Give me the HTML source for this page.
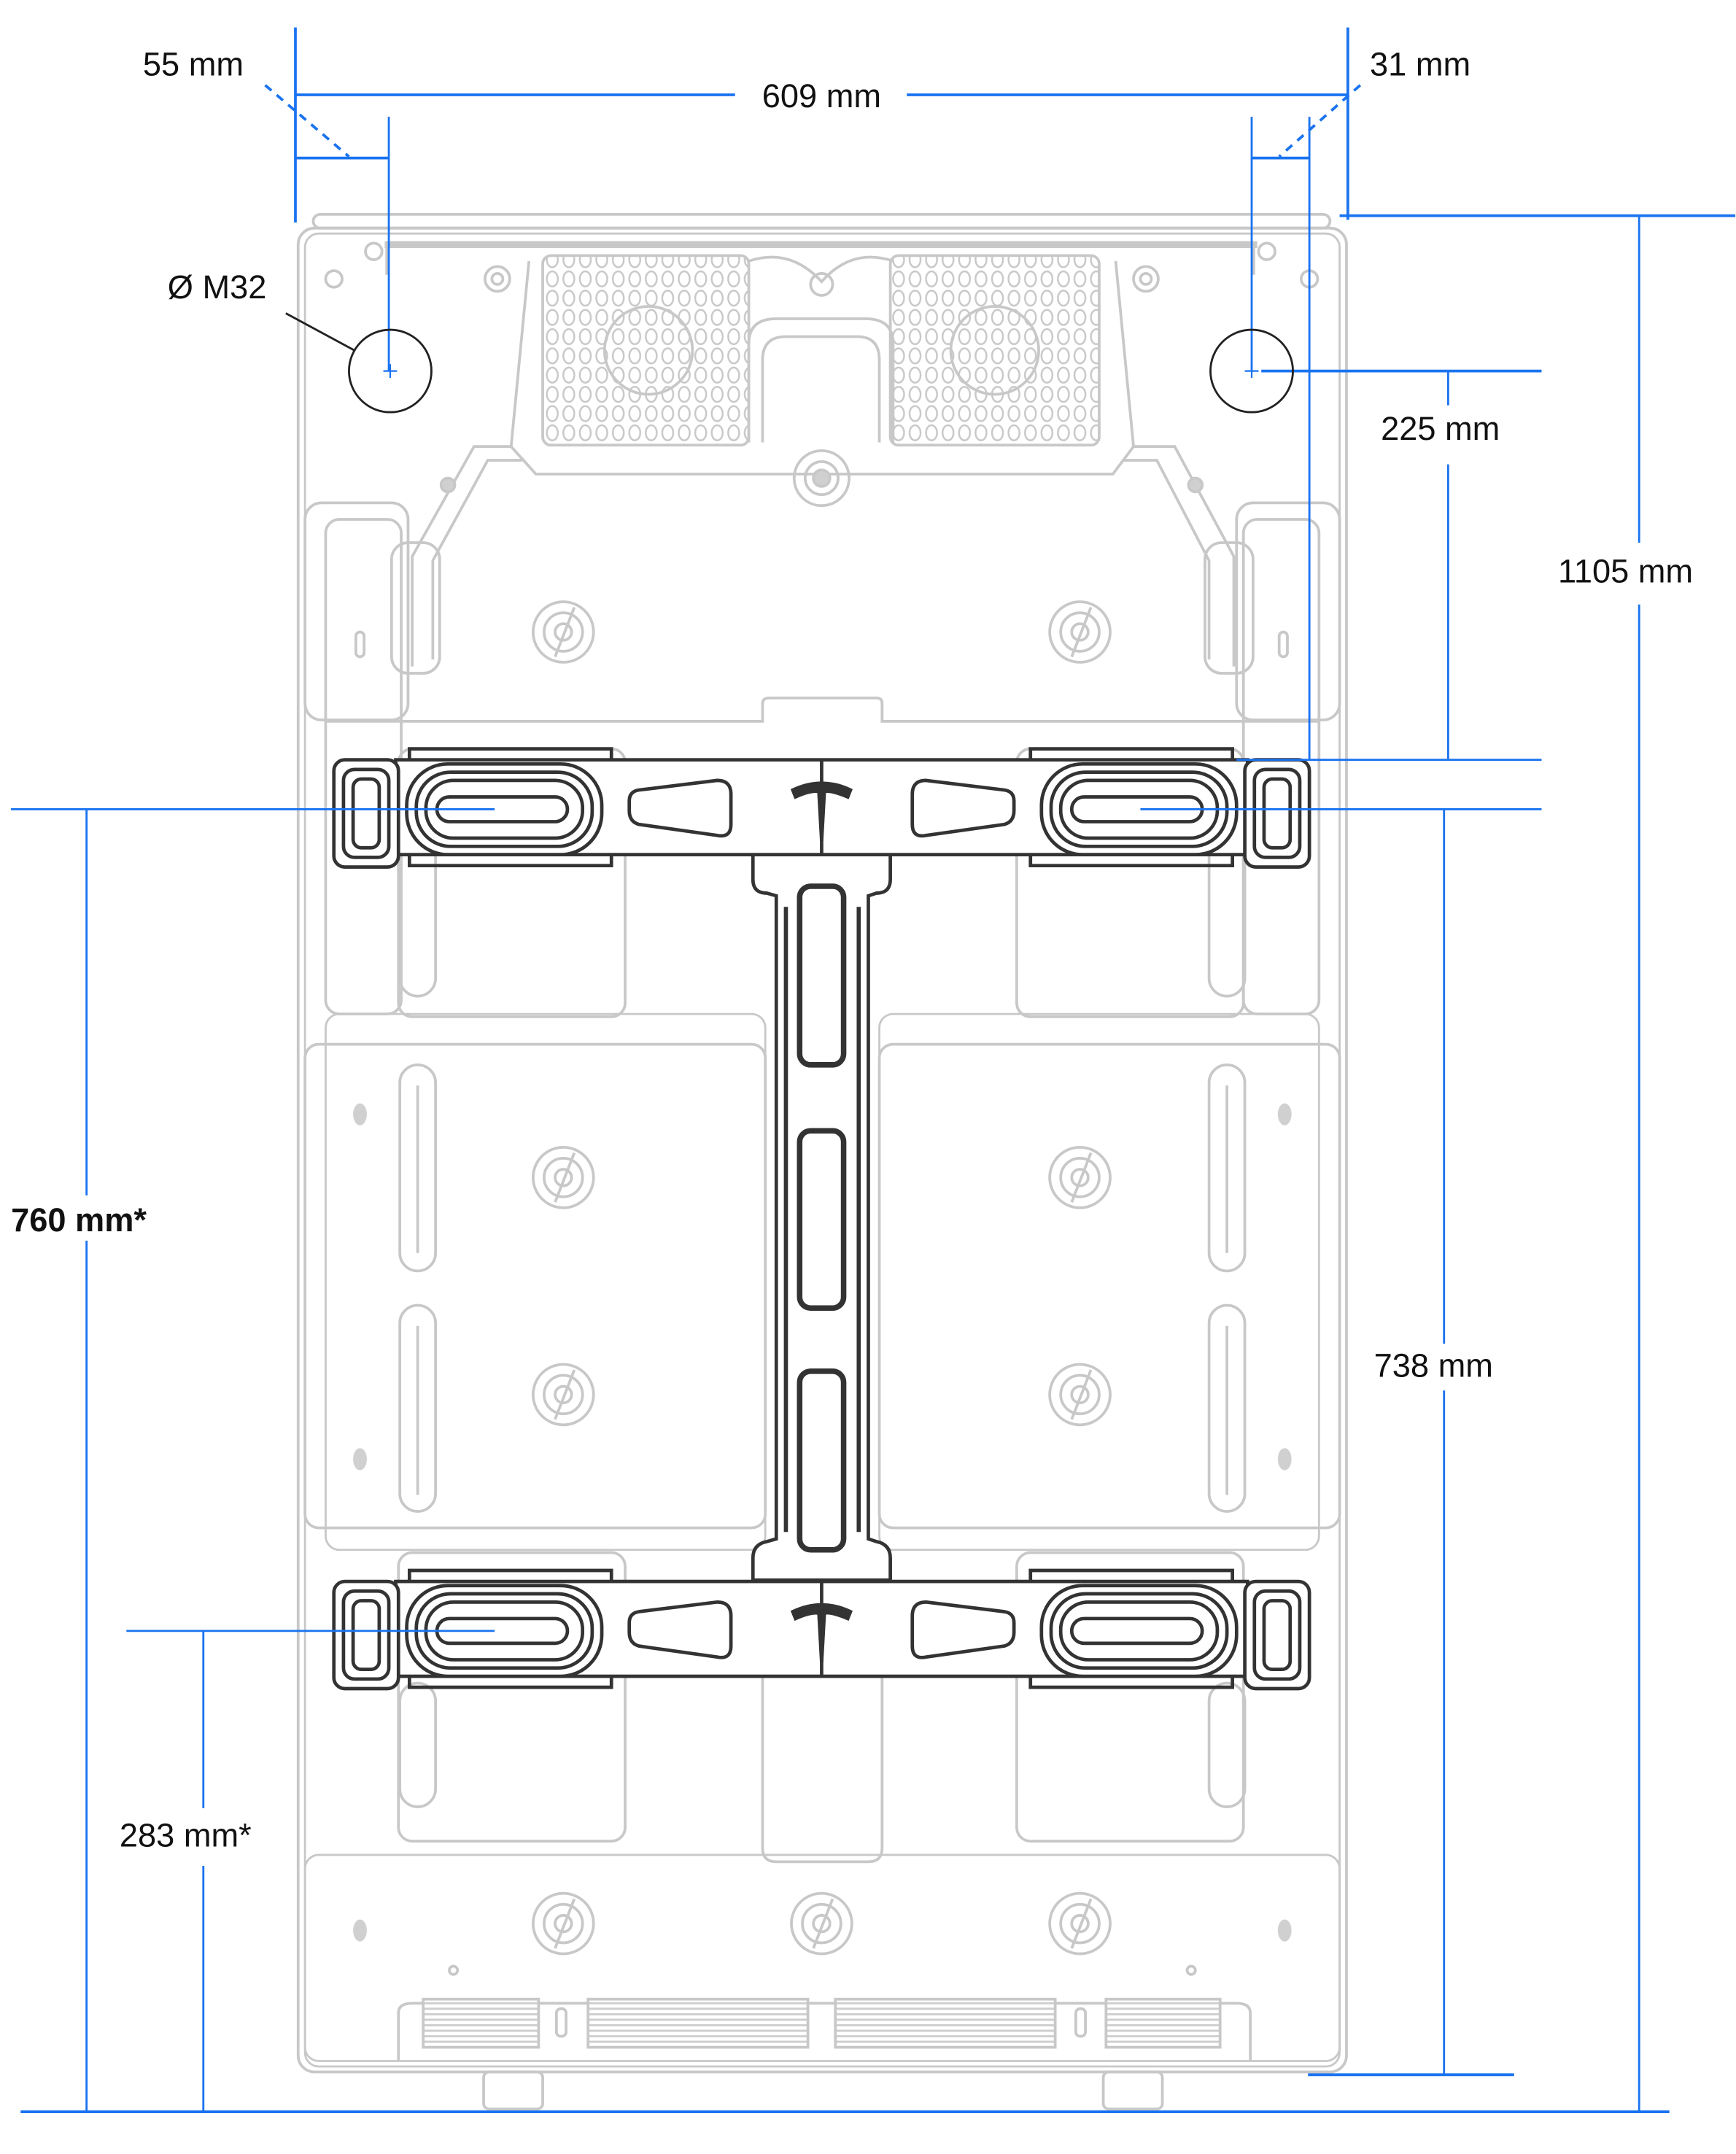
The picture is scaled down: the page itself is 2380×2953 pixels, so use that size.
<!DOCTYPE html>
<html><head><meta charset="utf-8"><style>
html,body{margin:0;padding:0;background:#fff}
svg{display:block}
text{font-family:"Liberation Sans",sans-serif;font-size:24px;fill:#111}
</style></head><body>
<svg width="2380" height="2953" viewBox="0 0 1263.5 1567.7" xmlns="http://www.w3.org/2000/svg">
<defs>
<pattern id="hex" width="12" height="14" patternUnits="userSpaceOnUse">
<rect width="12" height="14" fill="#fff"/>
<ellipse cx="6" cy="7" rx="4" ry="5.5" fill="none" stroke="#c8c8c8" stroke-width="1.3"/>
</pattern>
<pattern id="grill" width="6" height="4" patternUnits="userSpaceOnUse">
<rect width="6" height="4" fill="#fff"/><line x1="0" y1="2" x2="6" y2="2" stroke="#cfcfcf" stroke-width="1.6"/>
</pattern>
<g id="t" fill="none" stroke="#c8c8c8" stroke-width="2"><circle r="22"/><circle r="14"/><circle r="6"/><line x1="-6" y1="18" x2="8" y2="-18"/></g>
</defs>

<!-- ===== device (gray) ===== -->
<g fill="none" stroke="#c8c8c8" stroke-width="2">
<rect x="228" y="156" width="740" height="10" rx="5"/>
<rect x="217" y="166" width="763" height="1342" rx="12"/>
<rect x="222" y="170" width="753" height="1334" rx="10" stroke-width="1.5"/>
<line x1="280" y1="178" x2="915" y2="178" stroke-width="5"/>
<line x1="282" y1="178" x2="282" y2="200" stroke-width="3"/>
<line x1="912" y1="178" x2="912" y2="200" stroke-width="3"/>
<rect x="395" y="186" width="150" height="138" rx="6" fill="url(#hex)"/>
<rect x="648" y="186" width="152" height="138" rx="6" fill="url(#hex)"/>
<circle cx="472" cy="255" r="32"/><circle cx="724" cy="255" r="32"/>
<path d="M385 190 L372 325 L345 325 L300 405 L300 485 M812 190 L825 325 L855 325 L898 405 L898 485"/>
<path d="M545 190 Q575 180 598 205 Q620 180 650 190"/>
<path d="M545 322 L545 250 Q545 232 565 232 L630 232 Q650 232 650 250 L650 322"/>
<path d="M555 322 L555 262 Q555 245 572 245 L624 245 Q640 245 640 262 L640 322"/>
<path d="M372 325 L390 345 L810 345 L825 325"/>
<path d="M380 335 L355 335 L315 408 L315 480 M818 335 L842 335 L880 408 L880 480"/>
<rect x="285" y="395" width="35" height="95" rx="12"/><rect x="877" y="395" width="35" height="95" rx="12"/>
<circle cx="272" cy="183" r="6"/><circle cx="243" cy="203" r="6"/><circle cx="362" cy="203" r="9"/><circle cx="362" cy="203" r="4"/>
<circle cx="834" cy="203" r="9"/><circle cx="834" cy="203" r="4"/><circle cx="922" cy="183" r="6"/><circle cx="953" cy="203" r="6"/>
<circle cx="598" cy="207" r="8"/>
<circle cx="598" cy="348" r="20"/><circle cx="598" cy="348" r="12"/><circle cx="598" cy="348" r="6" fill="#d0d0d0"/>
<circle cx="326" cy="353" r="5" fill="#d0d0d0"/><circle cx="870" cy="353" r="5" fill="#d0d0d0"/>
<rect x="222" y="366" width="75" height="158" rx="12"/><rect x="900" y="366" width="75" height="158" rx="12"/>
<rect x="237" y="378" width="55" height="360" rx="10"/><rect x="905" y="378" width="55" height="360" rx="10"/>
<rect x="259" y="460" width="6" height="18" rx="3"/><rect x="931" y="460" width="6" height="18" rx="3"/>
<path d="M237 525 L555 525 L555 512 Q555 508 560 508 L638 508 Q642 508 642 512 L642 525 L960 525"/>
<rect x="290" y="545" width="165" height="195" rx="10"/><rect x="740" y="545" width="165" height="195" rx="10"/>
<rect x="222" y="760" width="335" height="352" rx="10"/><rect x="640" y="760" width="335" height="352" rx="10"/>
<rect x="237" y="738" width="320" height="390" rx="10" stroke-width="1.5"/><rect x="640" y="738" width="320" height="390" rx="10" stroke-width="1.5"/>
<rect x="290" y="1130" width="165" height="210" rx="10"/><rect x="740" y="1130" width="165" height="210" rx="10"/>
<path d="M555 1220 L555 1345 Q555 1355 565 1355 L632 1355 Q642 1355 642 1345 L642 1220"/>
<rect x="222" y="1350" width="753" height="150" rx="10" stroke-width="1.5"/>
<rect x="291" y="590" width="26" height="135" rx="13"/><rect x="880" y="590" width="26" height="135" rx="13"/>
<rect x="291" y="775" width="26" height="150" rx="13"/><rect x="880" y="775" width="26" height="150" rx="13"/>
<rect x="291" y="950" width="26" height="150" rx="13"/><rect x="880" y="950" width="26" height="150" rx="13"/>
<rect x="291" y="1225" width="26" height="90" rx="13"/><rect x="880" y="1225" width="26" height="90" rx="13"/>
<line x1="304" y1="790" x2="304" y2="912"/><line x1="893" y1="790" x2="893" y2="912"/>
<line x1="304" y1="965" x2="304" y2="1088"/><line x1="893" y1="965" x2="893" y2="1088"/>
<use href="#t" x="410" y="460"/><use href="#t" x="786" y="460"/>
<use href="#t" x="410" y="857"/><use href="#t" x="786" y="857"/>
<use href="#t" x="410" y="1015"/><use href="#t" x="786" y="1015"/>
<use href="#t" x="410" y="1400"/><use href="#t" x="598" y="1400"/><use href="#t" x="786" y="1400"/>
<g fill="#d0d0d0" stroke="none">
<ellipse cx="262" cy="811" rx="5" ry="8"/><ellipse cx="935" cy="811" rx="5" ry="8"/>
<ellipse cx="262" cy="1062" rx="5" ry="8"/><ellipse cx="935" cy="1062" rx="5" ry="8"/>
<ellipse cx="262" cy="1405" rx="5" ry="8"/><ellipse cx="935" cy="1405" rx="5" ry="8"/>
</g>
<circle cx="330" cy="1434" r="3"/><circle cx="867" cy="1434" r="3"/>
<path d="M290 1500 L290 1465 Q290 1458 300 1458 L900 1458 Q910 1458 910 1465 L910 1500"/>
<rect x="308" y="1455" width="84" height="35" fill="url(#grill)"/>
<rect x="428" y="1455" width="160" height="35" fill="url(#grill)"/>
<rect x="608" y="1455" width="160" height="35" fill="url(#grill)"/>
<rect x="805" y="1455" width="83" height="35" fill="url(#grill)"/>
<rect x="405" y="1462" width="7" height="20" rx="3"/><rect x="783" y="1462" width="7" height="20" rx="3"/>
<rect x="352" y="1508" width="43" height="27" rx="4"/><rect x="803" y="1508" width="43" height="27" rx="4"/>
</g>

<!-- ===== bracket (dark) ===== -->
<g fill="#fff" stroke="#333" stroke-width="2.5">
<path d="M548 622 L648 622 L648 640 Q648 650 638 650 L632 652 L632 1120 L638 1122 Q648 1124 648 1134 L648 1150 L548 1150 L548 1134 Q548 1124 558 1122 L565 1120 L565 652 L558 650 Q548 650 548 640 Z"/>
<line x1="572" y1="660" x2="572" y2="1115" stroke-width="3"/><line x1="625" y1="660" x2="625" y2="1115" stroke-width="3"/>
<rect x="582" y="645" width="32" height="130" rx="8" stroke-width="4"/>
<rect x="582" y="823" width="32" height="129" rx="8" stroke-width="4"/>
<rect x="582" y="998" width="32" height="130" rx="8" stroke-width="4"/>
<g id="bar">
<rect x="288" y="553" width="620" height="69"/>
<path d="M298 553 L298 545 L445 545 L445 553 M298 622 L298 630 L445 630 L445 622 M750 553 L750 545 L897 545 L897 553 M750 622 L750 630 L897 630 L897 622" fill="none"/>
<rect x="243" y="553" width="47" height="78" rx="8"/>
<rect x="250" y="560" width="33" height="64" rx="8"/><rect x="257" y="567" width="19" height="50" rx="6"/>
<rect x="906" y="553" width="47" height="78" rx="8"/>
<rect x="913" y="560" width="33" height="64" rx="8"/><rect x="920" y="567" width="19" height="50" rx="6"/>
<rect x="296" y="556" width="142" height="66" rx="30"/><rect x="303" y="562" width="128" height="54" rx="25"/>
<rect x="310" y="568" width="114" height="42" rx="20"/><rect x="318" y="580" width="95" height="18" rx="9"/>
<rect x="758" y="556" width="142" height="66" rx="30"/><rect x="765" y="562" width="128" height="54" rx="25"/>
<rect x="772" y="568" width="114" height="42" rx="20"/><rect x="780" y="580" width="95" height="18" rx="9"/>
<path d="M465 575 L522 568 Q532 568 532 578 L532 600 Q532 610 522 608 L465 600 Q458 598 458 590 L458 583 Q458 576 465 575 Z"/>
<path d="M731 575 L674 568 Q664 568 664 578 L664 600 Q664 610 674 608 L731 600 Q738 598 738 590 L738 583 Q738 576 731 575 Z"/>
<line x1="598" y1="553" x2="598" y2="622"/>
<path d="M577 575 Q598 565 619 575 L617 580 Q605 575 600 576 L598 612 L596 576 Q590 575 579 580 Z" fill="#333"/>
</g>
<use href="#bar" y="598"/>
</g>

<!-- ===== dimensions (blue) ===== -->
<g stroke="#1a73f0" stroke-width="2" fill="none">
<line x1="215" y1="20" x2="215" y2="162"/>
<line x1="981" y1="20" x2="981" y2="160"/>
<line x1="215" y1="69" x2="535" y2="69"/><line x1="660" y1="69" x2="981" y2="69"/>
<line x1="193" y1="62" x2="254" y2="114" stroke-dasharray="6,5"/>
<line x1="215" y1="115" x2="283" y2="115"/>
<line x1="283" y1="85" x2="283" y2="270" stroke-width="1.5"/>
<line x1="990" y1="62" x2="931" y2="114" stroke-dasharray="6,5"/>
<line x1="911" y1="115" x2="953" y2="115"/>
<line x1="911" y1="85" x2="911" y2="270" stroke-width="1.5"/>
<line x1="953" y1="85" x2="953" y2="553" stroke-width="1.5"/>
<line x1="975" y1="157" x2="1263" y2="157"/>
<line x1="1193" y1="157" x2="1193" y2="395" stroke-width="1.5"/><line x1="1193" y1="440" x2="1193" y2="1537" stroke-width="1.5"/>
<line x1="918" y1="270" x2="1122" y2="270"/>
<line x1="1054" y1="270" x2="1054" y2="295" stroke-width="1.5"/><line x1="1054" y1="338" x2="1054" y2="553" stroke-width="1.5"/>
<line x1="900" y1="553" x2="1122" y2="553" stroke-width="1.5"/>
<line x1="830" y1="589" x2="1122" y2="589" stroke-width="1.5"/>
<line x1="1051" y1="589" x2="1051" y2="978" stroke-width="1.5"/><line x1="1051" y1="1012" x2="1051" y2="1510" stroke-width="1.5"/>
<line x1="952" y1="1510" x2="1102" y2="1510"/>
<line x1="8" y1="589" x2="360" y2="589" stroke-width="1.5"/>
<line x1="63" y1="589" x2="63" y2="870" stroke-width="1.5"/><line x1="63" y1="903" x2="63" y2="1537" stroke-width="1.5"/>
<line x1="15" y1="1537" x2="1215" y2="1537"/>
<line x1="92" y1="1187" x2="360" y2="1187" stroke-width="1.5"/>
<line x1="148" y1="1187" x2="148" y2="1316" stroke-width="1.5"/><line x1="148" y1="1358" x2="148" y2="1537" stroke-width="1.5"/>
<line x1="279" y1="270" x2="289" y2="270" stroke-width="1.2"/><line x1="284" y1="265" x2="284" y2="275" stroke-width="1.2"/>
<line x1="906" y1="270" x2="916" y2="270" stroke-width="1.2"/><line x1="911" y1="265" x2="911" y2="275" stroke-width="1.2"/>
</g>
<g fill="none" stroke="#222" stroke-width="1.5">
<circle cx="284" cy="270" r="30"/><circle cx="911" cy="270" r="30"/>
<line x1="208" y1="228" x2="258" y2="255"/>
</g>

<text x="104" y="55">55 mm</text>
<text x="598" y="78" text-anchor="middle">609 mm</text>
<text x="997" y="55">31 mm</text>
<text x="122" y="217">Ø M32</text>
<text x="1005" y="320">225 mm</text>
<text x="1134" y="424">1105 mm</text>
<text x="8" y="896" font-weight="bold">760 mm*</text>
<text x="1000" y="1002">738 mm</text>
<text x="87" y="1344">283 mm*</text>
</svg>
</body></html>
